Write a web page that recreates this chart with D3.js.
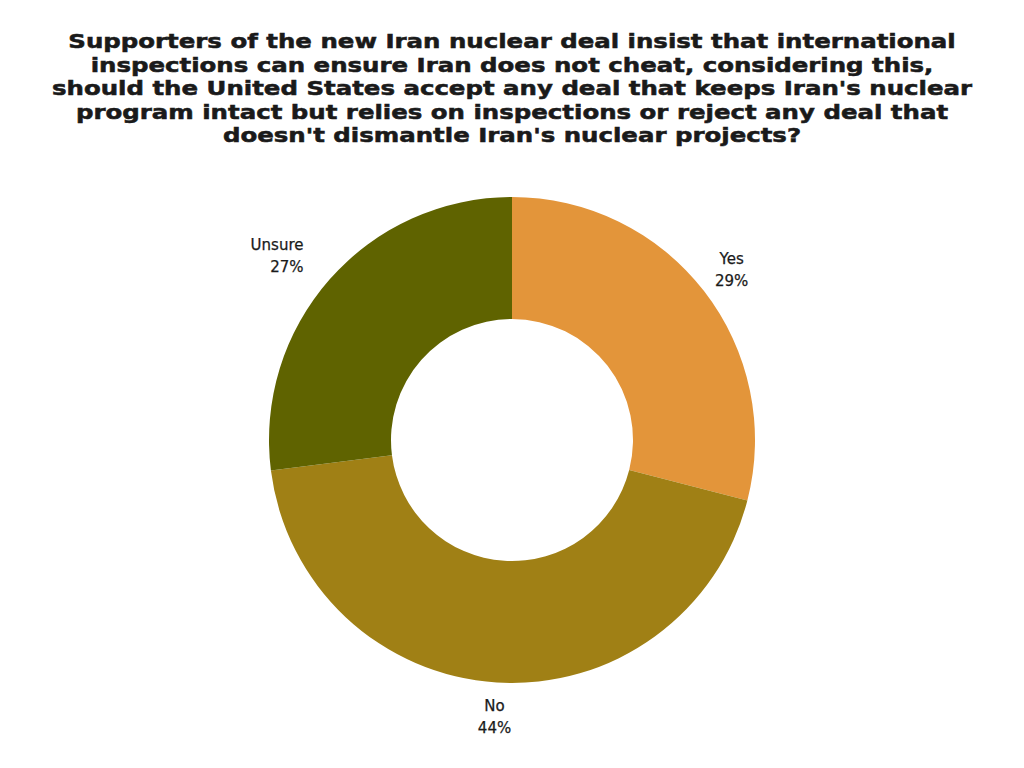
<!DOCTYPE html>
<html>
<head>
<meta charset="utf-8">
<script src="https://cdn.jsdelivr.net/npm/d3@7"></script>
<style>
  html, body { margin: 0; padding: 0; background: #ffffff; }
  svg { display: block; }
</style>
</head>
<body>
<svg id="chart" width="1024" height="768"></svg>
<script>
const titleLines = [
  "Supporters of the new Iran nuclear deal insist that international",
  "inspections can ensure Iran does not cheat, considering this,",
  "should the United States accept any deal that keeps Iran's nuclear",
  "program intact but relies on inspections or reject any deal that",
  "doesn't dismantle Iran's nuclear projects?"
];
const categories = ["Yes", "No", "Unsure"];
const values = [29, 44, 27];
const colors = ["#E3953A", "#A08015", "#5F6300"];

const svg = d3.select("#chart");
const W = 1024;

const titleG = svg.append("g")
  .attr("transform", `translate(${W / 2},0) scale(1.21,1)`);
const title = titleG.append("text")
  .attr("text-anchor", "middle")
  .attr("font-family", "'DejaVu Sans', sans-serif")
  .attr("font-weight", "bold")
  .attr("font-size", 20.2)
  .attr("fill", "#1a1a1a")
  .attr("stroke", "#1a1a1a")
  .attr("stroke-width", 0.55);
titleLines.forEach((line, i) => {
  title.append("tspan")
    .attr("x", 0)
    .attr("y", 48 + i * 23.6)
    .text(line);
});

const cx = 512, cy = 440;
const outerR = 243, innerR = 121;
const data = categories.map((c, i) => ({ cat: c, value: values[i], color: colors[i] }));

const pie = d3.pie().value(d => d.value).sort(null);
const arc = d3.arc().innerRadius(innerR).outerRadius(outerR);
const labelArc = d3.arc().innerRadius(278).outerRadius(278);

const g = svg.append("g").attr("transform", `translate(${cx},${cy})`);
const arcs = pie(data);

g.selectAll("path.slice")
  .data(arcs)
  .join("path")
  .attr("class", "slice")
  .attr("d", arc)
  .attr("fill", d => d.data.color);

const labels = g.selectAll("text.lbl")
  .data(arcs)
  .join("text")
  .attr("class", "lbl")
  .attr("text-anchor", d => labelArc.centroid(d)[0] < -100 ? "end" : "middle")
  .attr("font-family", "'DejaVu Sans', sans-serif")
  .attr("font-size", 15)
  .attr("fill", "#1a1a1a")
  .attr("stroke", "#1a1a1a")
  .attr("stroke-width", 0.25)
  .attr("transform", d => {
    const [x, y] = labelArc.centroid(d);
    return `translate(${x},${y})`;
  });
labels.append("tspan").attr("x", 0).attr("dy", "-0.4em").text(d => d.data.cat);
labels.append("tspan").attr("x", 0).attr("dy", "1.47em").text(d => d.data.value + "%");
</script>
</body>
</html>
